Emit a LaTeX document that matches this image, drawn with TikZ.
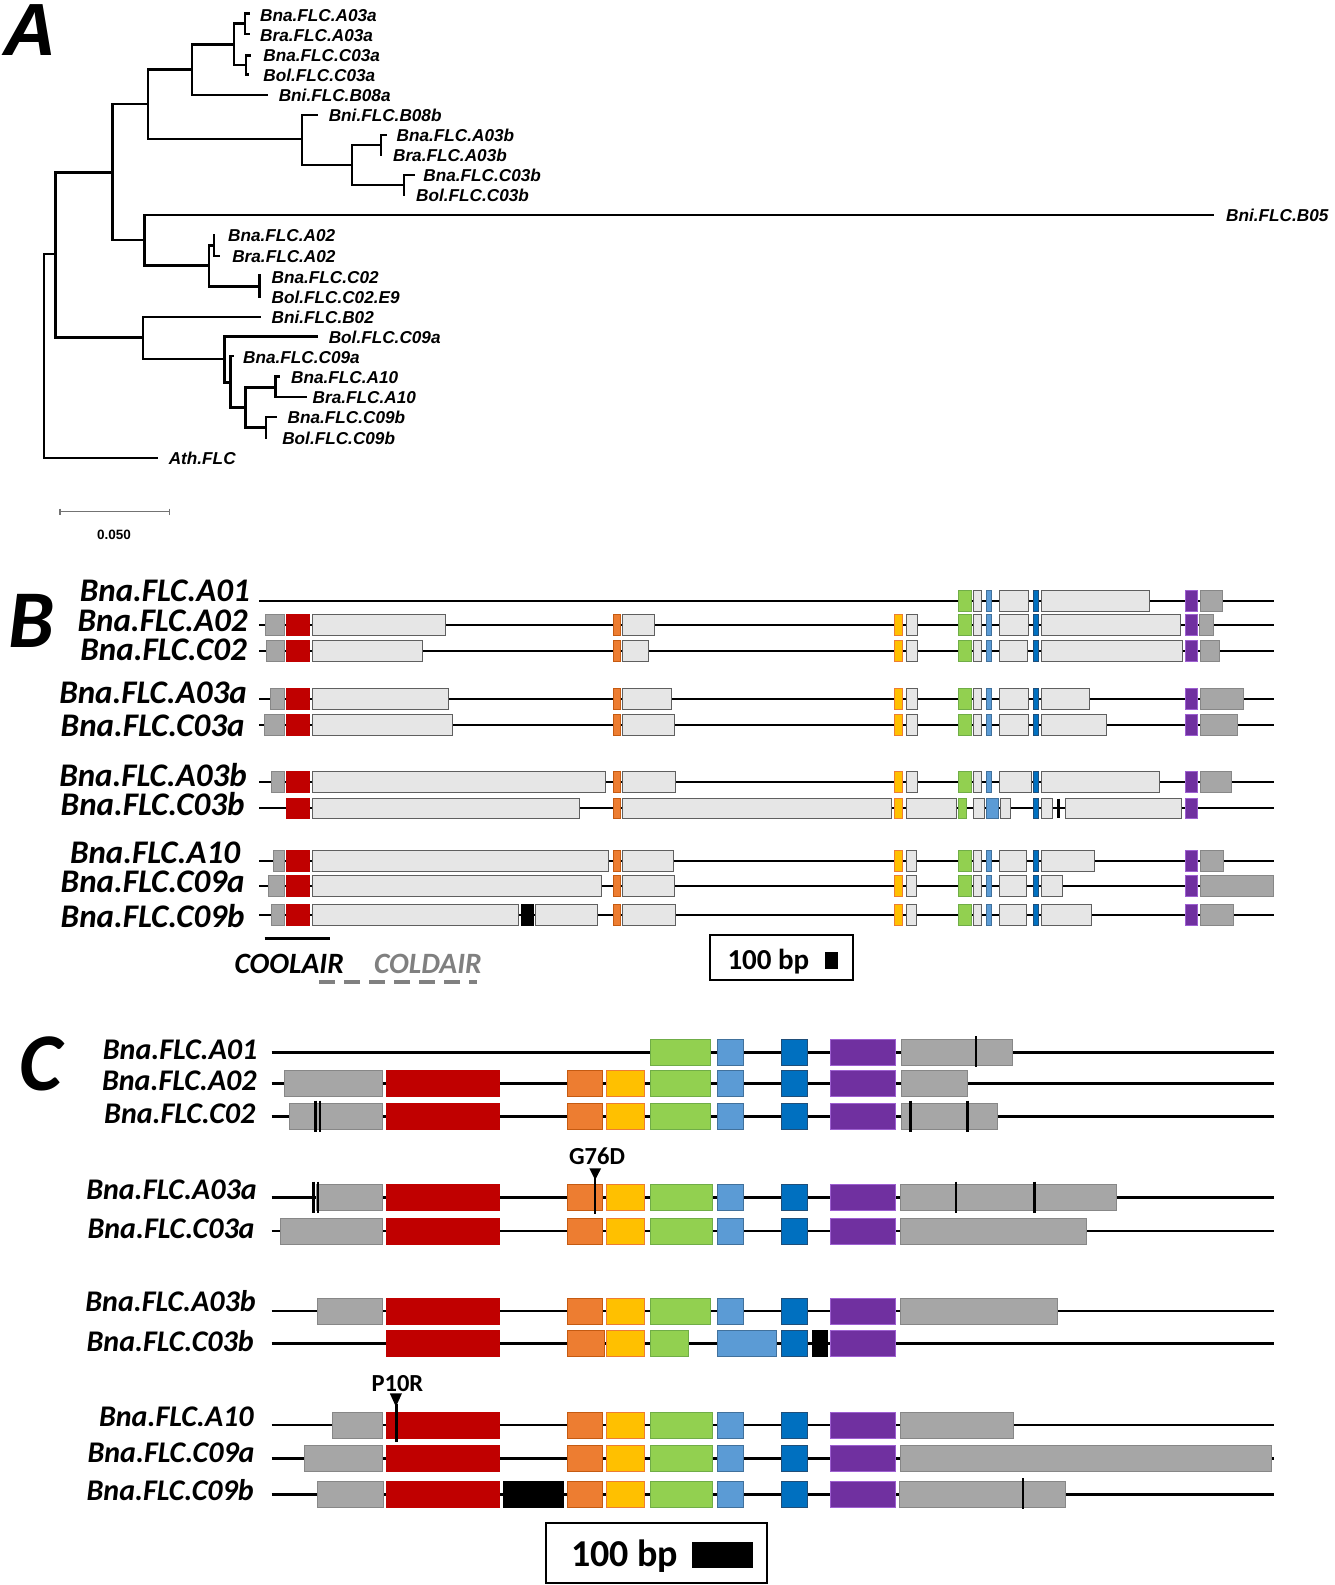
\documentclass[tikz,border=0pt]{standalone}
\usepackage{fontspec}
\setmainfont{Carlito}
\newfontfamily\arialf{Liberation Sans}
\newfontfamily\calf{Carlito}
\definecolor{cgray}{RGB}{166,166,166}
\definecolor{cgrayd}{RGB}{135,135,135}
\definecolor{clight}{RGB}{230,230,230}
\definecolor{clightd}{RGB}{95,95,95}
\definecolor{cred}{RGB}{192,0,0}
\definecolor{corange}{RGB}{237,125,49}
\definecolor{coranged}{RGB}{197,90,17}
\definecolor{cyellow}{RGB}{255,192,0}
\definecolor{cyellowd}{RGB}{237,125,49}
\definecolor{cgreen}{RGB}{146,208,80}
\definecolor{cgreend}{RGB}{112,173,71}
\definecolor{clblue}{RGB}{91,155,213}
\definecolor{clblued}{RGB}{65,113,156}
\definecolor{cdblue}{RGB}{0,112,192}
\definecolor{cdblued}{RGB}{31,78,121}
\definecolor{cpurple}{RGB}{112,48,160}
\definecolor{cpurpled}{RGB}{157,95,208}
\definecolor{ctext}{RGB}{128,128,128}
\newcommand{\rowB}[2]{\foreach \s/\a/\b in {#2}{\path[\s] (\a,{#1-10.3}) rectangle (\b,{#1+10.3});}}
\newcommand{\rowC}[2]{\foreach \s/\a/\b in {#2}{\path[\s] (\a,{#1-13}) rectangle (\b,{#1+13});}}
\newcommand{\tickC}[2]{\draw[tk] (#1,{#2-16}) -- (#1,{#2+15});}
\tikzset{
  tree/.style={line width=2.6pt, line cap=rect, line join=miter},
  gl/.style={line width=1.8pt, black},
  glc/.style={line width=2.5pt, black},
  tk/.style={line width=2.4pt, black},
  sG/.style={fill=cgray, draw=cgrayd, line width=0.7pt},
  sL/.style={fill=clight, draw=clightd, line width=0.8pt},
  sR/.style={fill=cred, draw=cred, line width=0.6pt},
  sO/.style={fill=corange, draw=coranged, line width=0.7pt},
  sY/.style={fill=cyellow, draw=cyellowd, line width=0.7pt},
  sGr/.style={fill=cgreen, draw=cgreend, line width=0.7pt},
  sB/.style={fill=clblue, draw=clblued, line width=0.7pt},
  sD/.style={fill=cdblue, draw=cdblued, line width=0.7pt},
  sP/.style={fill=cpurple, draw=cpurpled, line width=0.7pt},
  sK/.style={fill=black, draw=black, line width=0.6pt},
  tl/.style={font=\arialf\bfseries\itshape\fontsize{17.2}{20}\selectfont, inner sep=0pt, anchor=base west},
  bl/.style={font=\calf\bfseries\itshape\fontsize{33}{38}\selectfont, inner sep=0pt, anchor=base east, text height=21pt, text depth=0pt},
  cl/.style={font=\calf\bfseries\itshape\fontsize{30}{36}\selectfont, inner sep=0pt, anchor=base east, text height=20pt, text depth=0pt},
  mut/.style={font=\calf\bfseries\fontsize{24.5}{28}\selectfont, inner sep=0pt},
  panel/.style={inner sep=0pt, anchor=base west, text height=52pt, text depth=0pt},
}
\begin{document}
\begin{tikzpicture}[x=1pt,y=-1pt]
\useasboundingbox (0,0) rectangle (1334,1585);
% ================= Panel A =================
\node[panel, font=\arialf\bfseries\itshape\fontsize{74}{80}\selectfont] (labA) at (3,55) {A};
\begin{scope}[tree]
\draw (249,13.5) -- (245,13.5) -- (245,34) -- (249,34);
\draw (250,55.5) -- (246,55.5) -- (246,74.5) -- (248,74.5);
\draw (245,23.7) -- (234,23.7) -- (234,65) -- (246,65);
\draw (234,44.3) -- (192,44.3) -- (192,95) -- (267,95);
\draw (192,69.7) -- (148,69.7) -- (148,139) -- (302,139);
\draw (317,115) -- (302,115) -- (302,165) -- (352,165);
\draw (386,135) -- (381,135) -- (381,155);
\draw (381,145) -- (352,145) -- (352,185) -- (404,185);
\draw (413.6,175) -- (404,175) -- (404,195);
\draw (148,104) -- (112.5,104) -- (112.5,240) -- (144.6,240);
\draw (1213,215) -- (144.6,215) -- (144.6,265.5) -- (209,265.5);
\draw (214,235) -- (214,256) -- (219,256);
\draw (214,245.5) -- (209,245.5) -- (209,286.3) -- (259.6,286.3);
\draw (259.6,275.5) -- (259.6,297);
\draw (112.5,172.4) -- (55.4,172.4) -- (55.4,337.6) -- (142.9,337.6);
\draw (259.6,317) -- (142.9,317) -- (142.9,359) -- (224.3,359);
\draw (317,336.5) -- (224.3,336.5) -- (224.3,382.5) -- (230.4,382.5);
\draw (233,356) -- (230.4,356) -- (230.4,407.2) -- (245.7,407.2);
\draw (275.7,387.5) -- (245.7,387.5) -- (245.7,427.5) -- (266,427.5);
\draw (279,376.5) -- (275.7,376.5) -- (275.7,397) -- (305.4,397);
\draw (275.7,417) -- (266,417) -- (266,438);
\draw (55.4,254) -- (43.9,254) -- (43.9,458) -- (157.1,458);
\end{scope}
\node[tl] (t1) at (260,21.5) {Bna.FLC.A03a};
\node[tl] (t2) at (260,41.5) {Bra.FLC.A03a};
\node[tl] (t3) at (263.2,61.5) {Bna.FLC.C03a};
\node[tl] (t4) at (263.2,81.5) {Bol.FLC.C03a};
\node[tl] (t5) at (278.6,101.5) {Bni.FLC.B08a};
\node[tl] (t6) at (328.6,121.5) {Bni.FLC.B08b};
\node[tl] (t7) at (396.4,141.5) {Bna.FLC.A03b};
\node[tl] (t8) at (392.9,161.5) {Bra.FLC.A03b};
\node[tl] (t9) at (423.2,181.5) {Bna.FLC.C03b};
\node[tl] (t10) at (416,201.5) {Bol.FLC.C03b};
\node[tl] (t11) at (1226,221.5) {Bni.FLC.B05};
\node[tl] (t12) at (227.9,241.7) {Bna.FLC.A02};
\node[tl] (t13) at (232.1,262) {Bra.FLC.A02};
\node[tl] (t14) at (271.4,283) {Bna.FLC.C02};
\node[tl] (t15) at (271.4,303.5) {Bol.FLC.C02.E9};
\node[tl] (t16) at (271.4,323.5) {Bni.FLC.B02};
\node[tl] (t17) at (328.6,343.5) {Bol.FLC.C09a};
\node[tl] (t18) at (242.9,363.5) {Bna.FLC.C09a};
\node[tl] (t19) at (291,383.5) {Bna.FLC.A10};
\node[tl] (t20) at (312.5,403.5) {Bra.FLC.A10};
\node[tl] (t21) at (287.5,423.8) {Bna.FLC.C09b};
\node[tl] (t22) at (282.1,444) {Bol.FLC.C09b};
\node[tl] (t23) at (168.6,464.5) {Ath.FLC};
% scale bar
\draw[line width=1.5pt, black!55] (60,511.7) -- (169.6,511.7);
\draw[line width=1.2pt, black!55] (60,508.5) -- (60,515) (169.6,508.5) -- (169.6,515);
\node[font=\arialf\bfseries\fontsize{13.5}{16}\selectfont, inner sep=0pt] (sc) at (114,535) {0.050};
% ================= Panel B =================
\node[panel, font=\calf\bfseries\itshape\fontsize{82}{90}\selectfont] (labB) at (8,647) {B};
\foreach \yy in {601,625,651,699,725,781.7,808.3,860.7,886,915}{\draw[gl] (259,\yy) -- (1274.2,\yy);}
\rowB{601}{sGr/958.6/971.1, sL/972.9/981.8, sB/986.3/991.6, sL/999.6/1028.7, sD/1033.1/1038.5, sL/1041.2/1149.6, sP/1184.9/1197.4, sG/1200.5/1222}
\rowB{625}{sG/265.6/284.4, sR/286.6/309.4, sL/312.5/445, sO/613.3/620.4, sL/622.6/654.6, sY/894.7/902.3, sL/905.9/917, sGr/958.6/971.1, sL/972.9/981.8, sB/986.3/991.6, sL/999.6/1028.7, sD/1033.1/1038.5, sL/1041.2/1180.4, sP/1184.9/1197.4, sG/1199.6/1213}
\rowB{651}{sG/266.5/284.4, sR/286.6/309.4, sL/312.5/421.9, sO/613.3/620.4, sL/622.6/647.9, sY/894.7/902.3, sL/905.9/917, sGr/958.6/971.1, sL/972.9/981.8, sB/986.3/991.6, sL/999.6/1027.5, sD/1033.1/1038.5, sL/1041.2/1182.2, sP/1184.9/1197.4, sG/1200.5/1219.3}
\rowB{699}{sG/270/284.4, sR/286.6/309.4, sL/312.5/448.7, sO/613.3/620.4, sL/622.6/671.5, sY/894.7/902.3, sL/905.9/917, sGr/958.6/971.1, sL/972.9/981.8, sB/986.3/991.6, sL/999.6/1028.7, sD/1033.1/1038.5, sL/1041.2/1088.9, sP/1184.9/1197.4, sG/1200.5/1243}
\rowB{725}{sG/264.3/284.4, sR/286.6/309.4, sL/312.5/452.2, sO/613.3/620.4, sL/622.6/674.6, sY/894.7/902.3, sL/905.9/917, sGr/958.6/971.1, sL/972.9/981.8, sB/986.3/991.6, sL/999.6/1028.7, sD/1033.1/1038.5, sL/1041.2/1105.9, sP/1184.9/1197.4, sG/1200.5/1237.1}
\rowB{781.7}{sG/271.4/284.4, sR/286.6/309.4, sL/312.5/605.8, sO/613.3/620.4, sL/622.6/675.1, sY/894.7/902.3, sL/905.9/917, sGr/958.6/971.1, sL/972.9/981.8, sB/986.3/991.6, sL/999.6/1031, sD/1033.1/1038.5, sL/1041.2/1159, sP/1184.9/1197.4, sG/1200.5/1230.9}
\rowB{808.3}{sR/286.6/309.4, sL/312.5/579.5, sO/613.3/620.4, sL/622.6/891.6, sY/894.7/902.3, sL/906.8/955.9, sGr/958.6/966.6, sL/972.9/984, sB/986.3/998.3, sL/1000.5/1010.8, sD/1033.1/1038.5, sL/1041.2/1052.3, sL/1065.3/1181.3, sP/1184.9/1197.4}
\draw[line width=2.5pt] (1058.6,798.5) -- (1058.6,818);
\rowB{860.7}{sG/273.7/284.4, sR/286.6/309.4, sL/312.5/608, sO/613.3/620.4, sL/622.6/672.9, sY/894.7/902.3, sL/905.9/916.2, sGr/958.6/971.1, sL/972.9/981.8, sB/986.3/991.6, sL/999.6/1026.4, sD/1033.1/1038.5, sL/1041.2/1094.7, sP/1184.9/1197.4, sG/1200.5/1222.9}
\rowB{886}{sG/267.9/284.4, sR/286.6/309.4, sL/312.5/601.8, sO/613.3/620.4, sL/622.6/674.6, sY/894.7/902.3, sL/905.9/916.2, sGr/958.6/971.1, sL/972.9/981.8, sB/986.3/991.6, sL/999.6/1026.4, sD/1033.1/1038.5, sL/1041.2/1062.1, sP/1184.9/1197.4, sG/1200.5/1272.9}
\rowB{915}{sG/271/284.4, sR/286.6/309.4, sL/312.5/517.9, sK/521/533.5, sL/535.7/596.9, sO/613.3/620.4, sL/622.6/675.1, sY/894.7/902.3, sL/905.9/916.2, sGr/958.6/971.1, sL/972.9/981.8, sB/986.3/991.6, sL/999.6/1026.4, sD/1033.1/1038.5, sL/1041.2/1091.2, sP/1184.9/1197.4, sG/1200.5/1233.1}
\node[bl] (bA01) at (250,601.7) {Bna.FLC.A01};
\node[bl] (bA02) at (247.8,631.7) {Bna.FLC.A02};
\node[bl] (bC02) at (246.9,660) {Bna.FLC.C02};
\node[bl] (bA03a) at (246.9,703.3) {Bna.FLC.A03a};
\node[bl] (bC03a) at (244.6,736.5) {Bna.FLC.C03a};
\node[bl] (bA03b) at (246.9,786.7) {Bna.FLC.A03b};
\node[bl] (bC03b) at (244.6,815.5) {Bna.FLC.C03b};
\node[bl] (bA10) at (240.2,863.3) {Bna.FLC.A10};
\node[bl] (bC09a) at (244.6,892.5) {Bna.FLC.C09a};
\node[bl] (bC09b) at (244.6,927) {Bna.FLC.C09b};
\coordinate (coolA) at (264.7,938.3);
\coordinate (coolB) at (330.4,938.3);
\draw[line width=3.5pt] (coolA) -- (coolB);
\coordinate (coldA) at (319,982);
\coordinate (coldB) at (477,982);
\draw[line width=3.5pt, ctext, dash pattern=on 16pt off 9pt] (coldA) -- (coldB);
\node[font=\calf\bfseries\itshape\fontsize{29.5}{34}\selectfont, inner sep=0pt, anchor=base west] (cool) at (234.4,973) {COOLAIR};
\node[font=\calf\bfseries\itshape\fontsize{29.5}{34}\selectfont, inner sep=0pt, anchor=base west, text=ctext] (cold) at (374,973) {COLDAIR};
\draw[line width=2pt] (709.5,935) rectangle (853.2,980);
\node[font=\calf\bfseries\fontsize{29}{34}\selectfont, inner sep=0pt, anchor=base west] (bpB) at (727.3,969.3) {100 bp};
\fill (824.6,951.7) rectangle (837.6,969.3);
% ================= Panel C =================
\node[panel, font=\calf\bfseries\itshape\fontsize{82}{90}\selectfont] (labC) at (19,1090) {C};
\foreach \yy in {1052.3,1083.3,1116.7,1197.7,1231,1311,1343.3,1425,1458.3,1494.3}{\draw[glc] (271.5,\yy) -- (1274.1,\yy);}
\rowC{1052.3}{sGr/650.4/710.7, sB/717/742.9, sD/781.7/807.6, sP/830.8/895.5, sG/901.3/1012}
\tickC{975.9}{1052.3}
\rowC{1083.3}{sG/284.1/382.2, sR/386/499.6, sO/567/602.8, sY/606.4/644.3, sGr/650.4/710.7, sB/717/742.9, sD/781.7/807.6, sP/830.8/895.5, sG/901.3/967.4}
\rowC{1116.7}{sG/289.6/382.2, sR/386/499.6, sO/567/602.8, sY/606.4/644.3, sGr/650.4/710.7, sB/717/742.9, sD/781.7/807.6, sP/830.8/895.5, sG/901.3/997.3}
\tickC{315.5}{1116.7}\tickC{320}{1116.7}\tickC{910.3}{1116.7}\tickC{967.4}{1116.7}
\rowC{1197.7}{sG/316.5/382.2, sR/386/499.6, sO/567/602.8, sY/606.4/644.3, sGr/650.4/712, sB/717/742.9, sD/781.7/807.6, sP/830.8/895.5, sG/900.4/1116.5}
\tickC{313.4}{1197.7}\tickC{317.8}{1197.7}\tickC{955.8}{1197.7}\tickC{1034.4}{1197.7}
\rowC{1231}{sG/279.9/382.2, sR/386/499.6, sO/567/602.8, sY/606.4/644.3, sGr/650.4/712, sB/717/742.9, sD/781.7/807.6, sP/830.8/895.5, sG/900.4/1086.6}
\rowC{1311}{sG/317.8/382.2, sR/386/499.6, sO/567/602.8, sY/606.4/644.3, sGr/650.4/710.7, sB/717/742.9, sD/781.7/807.6, sP/830.8/895.5, sG/900.4/1057.6}
\rowC{1343.3}{sR/386/499.6, sO/567/604, sY/606.4/644.3, sGr/650.4/688, sB/717/776.8, sD/781.7/807.6, sK/812/826.8, sP/830.8/895.5}
\rowC{1425}{sG/332.5/382.2, sR/386/499.6, sO/567/602.8, sY/606.4/644.3, sGr/650.4/712, sB/717/742.9, sD/781.7/807.6, sP/830.8/895.5, sG/900.4/1013}
\rowC{1458.3}{sG/304.3/382.2, sR/386/499.6, sO/567/602.8, sY/606.4/644.3, sGr/650.4/712, sB/717/742.9, sD/781.7/807.6, sP/830.8/895.5, sG/900.4/1271}
\rowC{1494.3}{sG/317/383, sR/386/499.6, sK/503/562.8, sO/567/602.8, sY/606.4/644.3, sGr/650.4/712, sB/717/742.9, sD/781.7/807.6, sP/830.8/895.5, sG/899.1/1065.6}
\tickC{1023.2}{1494.3}
% mutations
\node[mut] (g76d) at (597,1156) {G76D};
\fill (589.3,1168.3) -- (601.1,1168.3) -- (595.2,1180) -- cycle;
\draw[line width=2.2pt] (594.8,1172) -- (594.8,1214);
\node[mut] (p10r) at (397.4,1383.7) {P10R};
\fill (389.8,1393.3) -- (402,1393.3) -- (395.9,1406.7) -- cycle;
\draw[line width=2.2pt] (396.5,1404) -- (396.5,1441.7);
\node[cl] (cA01) at (257.6,1059.3) {Bna.FLC.A01};
\node[cl] (cA02) at (256.8,1090) {Bna.FLC.A02};
\node[cl] (cC02) at (255.5,1123.3) {Bna.FLC.C02};
\node[cl] (cA03a) at (256.8,1199.3) {Bna.FLC.A03a};
\node[cl] (cC03a) at (254.7,1238.3) {Bna.FLC.C03a};
\node[cl] (cA03b) at (255.9,1311.7) {Bna.FLC.A03b};
\node[cl] (cC03b) at (253.8,1351.7) {Bna.FLC.C03b};
\node[cl] (cA10) at (253.8,1426.7) {Bna.FLC.A10};
\node[cl] (cC09a) at (254.7,1462.7) {Bna.FLC.C09a};
\node[cl] (cC09b) at (253.8,1500) {Bna.FLC.C09b};
\draw[line width=2.2pt] (546,1523) rectangle (766.7,1582.7);
\node[font=\calf\bfseries\fontsize{38}{44}\selectfont, inner sep=0pt, anchor=base west] (bpC) at (571,1566) {100 bp};
\fill (691.7,1541.7) rectangle (753.3,1567.7);
\end{tikzpicture}
\end{document}
